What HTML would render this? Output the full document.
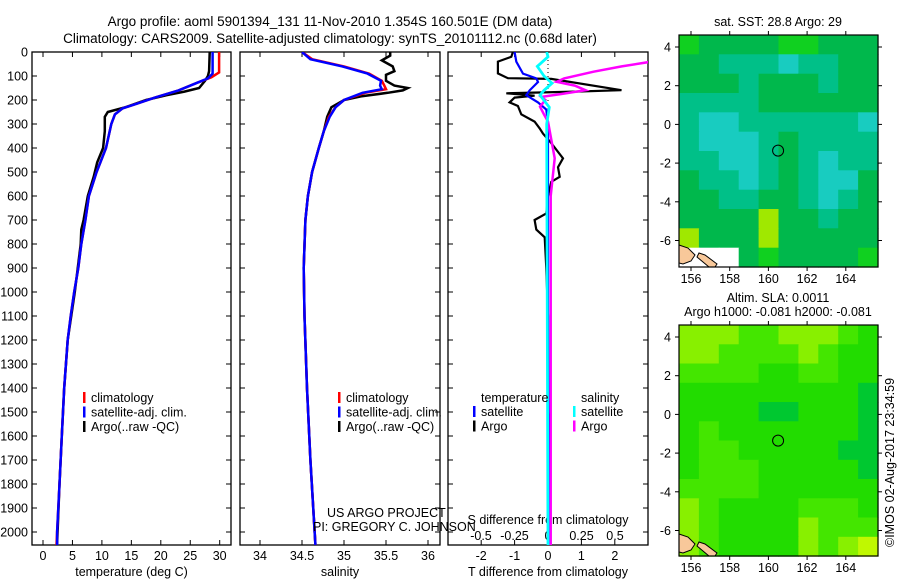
<!DOCTYPE html>
<html><head><meta charset="utf-8"><style>
body{margin:0;background:#fff;}
svg{display:block;font-family:"Liberation Sans",Arial,sans-serif;}
</style></head><body>
<svg id="chart" width="900" height="580" viewBox="0 0 900 580" xmlns="http://www.w3.org/2000/svg">
<rect width="900" height="580" fill="#fff"/>
<text x="330" y="26" font-size="13.5" text-anchor="middle">Argo profile: aoml 5901394_131 11-Nov-2010 1.354S 160.501E (DM data)</text>
<text x="330" y="43" font-size="13.5" text-anchor="middle">Climatology: CARS2009. Satellite-adjusted climatology: synTS_20101112.nc (0.68d later)</text>
<g id="g"></g>
</svg>
<script>
// ---------- data ----------
const depthTicks=[0,100,200,300,400,500,600,700,800,900,1000,1100,1200,1300,1400,1500,1600,1700,1800,1900,2000];
const tempTicks=[0,5,10,15,20,25,30];
const salTicks=[34,34.5,35,35.5,36];
const salTickLabels=['34','34.5','35','35.5','36'];
const tdTicks=[-2,-1,0,1,2];
const sdTicks=[-0.5,-0.25,0,0.25,0.5];
const sdTickLabels=['-0.5','-0.25','0','0.25','0.5'];
const tempClim=[[0,29.9],[85,29.9],[105,28.6],[130,26],[160,23],[190,19],[215,16],[235,13.5],[260,12.2],[300,11.6],[400,10.7],[500,9.1],[600,7.8],[700,7.2],[800,6.5],[900,6],[1000,5.3],[1100,4.7],[1200,4.2],[1400,3.6],[1600,3.2],[1800,2.8],[2000,2.4],[2054,2.3]];
const tempSat=[[0,28.8],[90,28.8],[110,28],[130,26],[160,23],[190,19],[215,16],[235,13.5],[260,12.2],[300,11.6],[400,10.7],[500,9.1],[600,7.8],[700,7.2],[800,6.5],[900,6],[1000,5.3],[1100,4.7],[1200,4.2],[1400,3.6],[1600,3.2],[1800,2.8],[2000,2.4],[2054,2.4]];
const tempArgo=[[0,28.3],[80,28.2],[100,28],[120,27.5],[150,26.5],[165,24],[180,21],[200,17.5],[230,14],[250,11],[270,10.5],[330,10.5],[400,10.2],[460,9.2],[520,8.6],[600,7.6],[700,6.9],[740,6.5],[800,6.4],[1000,5.4],[1200,4.2],[1400,3.6],[1600,3.2],[1800,2.8],[2050,2.4]];
const salClim=[[0,34.5],[30,34.62],[60,35.0],[90,35.3],[120,35.45],[140,35.48],[155,35.5],[170,35.25],[200,35.0],[230,34.9],[270,34.82],[330,34.76],[400,34.7],[500,34.62],[600,34.57],[700,34.54],[900,34.52],[1100,34.53],[1400,34.56],[1700,34.6],[2054,34.66]];
const salSat=[[0,34.5],[30,34.6],[60,34.98],[90,35.28],[120,35.44],[140,35.43],[155,35.45],[170,35.22],[200,35.0],[230,34.9],[270,34.83],[330,34.76],[400,34.7],[500,34.62],[600,34.57],[700,34.54],[900,34.52],[1100,34.53],[1400,34.56],[1700,34.6],[2054,34.66]];
const salArgo=[[0,35.55],[15,35.55],[35,35.45],[60,35.58],[80,35.6],[95,35.5],[120,35.5],[140,35.6],[150,35.76],[160,35.7],[170,35.52],[185,35.2],[200,35.0],[230,34.85],[270,34.8],[330,34.76],[400,34.7],[500,34.62],[600,34.57],[700,34.54],[900,34.52],[1100,34.53],[1400,34.56],[1700,34.6],[2050,34.66]];
const tdArgo=[[0,-1.05],[20,-1.1],[40,-1.5],[89,-1.5],[109,-1.2],[112,0.1],[159,2.2],[165,0.8],[172,-1.25],[182,-0.4],[190,-1.0],[210,-1.15],[225,-0.9],[260,-0.8],[290,-0.4],[318,-0.25],[340,-0.15],[380,0.1],[443,0.45],[480,0.3],[520,0.35],[541,0.1],[600,0],[673,-0.05],[700,-0.4],[740,-0.35],[772,-0.1],[900,-0.05],[1100,0],[1500,0],[1550,0.05],[2050,0.05]];
const tdSat=[[0,-1.0],[40,-0.95],[90,-0.75],[110,-0.35],[125,-0.3],[160,-0.55],[180,-0.65],[210,-0.3],[240,-0.05],[300,0],[1000,0],[2054,0.02]];
const sdSat=[[0,-0.01],[20,0],[45,-0.05],[60,-0.08],[100,-0.03],[130,0.03],[160,-0.03],[180,-0.06],[230,0.01],[300,-0.01],[2054,0]];
const sdArgo=[[0,1.2],[30,0.95],[42,0.75],[60,0.55],[82,0.34],[110,0.12],[124,0.065],[140,0.2],[159,0.28],[175,0.1],[187,-0.05],[200,-0.02],[228,-0.06],[260,-0.03],[290,0],[443,0.05],[600,0.02],[2054,0.02]];
const lonTicks=[156,158,160,162,164];
const latTicks=[4,2,0,-2,-4,-6];
const sstGrid=[
[3,2,2,2,2,3,3,2,2,2],[2,2,1,1,1,0,1,1,2,2],[2,2,2,1,2,2,2,1,2,2],[1,1,1,1,2,2,2,2,2,2],
[1,0,0,1,1,1,1,1,1,0],[1,0,0,0,1,2,1,1,1,1],[1,1,0,0,1,2,1,0,1,1],[2,1,1,0,1,2,1,0,0,2],
[2,2,1,1,2,2,1,0,1,2],[2,2,2,2,4,2,2,1,2,2],[4,2,2,2,4,2,2,2,2,2],[5,5,5,2,3,2,2,2,2,3]];
const slaGrid=[
[3,3,3,2,2,3,3,3,2,1],[3,3,2,2,2,2,3,2,1,1],[2,2,2,2,1,1,2,2,1,1],[1,1,1,1,1,1,1,1,1,0],
[1,1,1,1,0,0,1,1,1,0],[1,2,1,1,1,1,1,1,1,0],[1,2,2,1,1,1,1,1,0,0],[1,2,2,2,1,1,1,1,1,0],
[2,2,2,2,1,1,1,1,1,1],[3,2,1,1,1,1,2,2,2,1],[3,2,1,1,1,1,3,2,2,2],[3,2,1,1,1,1,3,2,3,4]];
const floatLon=160.501, floatLat=-1.354;

// ---------- helpers ----------
const NS='http://www.w3.org/2000/svg';
const G=document.getElementById('g');
function el(tag,attrs,parent){const e=document.createElementNS(NS,tag);for(const k in attrs)e.setAttribute(k,attrs[k]);(parent||G).appendChild(e);return e;}
function txt(x,y,s,anchor,size,parent){const t=el('text',{x:x,y:y,'font-size':size||12.5,'text-anchor':anchor||'start'},parent);t.textContent=s;return t;}
const TOP=52,BOT=545;
const yD=d=>TOP+d*0.24;
function clip(id,x,y,w,h){const c=el('clipPath',{id:id});el('rect',{x:x,y:y,width:w,height:h},c);}

function panel(name,x0,x1,xs,ticks,labels,xlabel,showDepth){
  const g=el('g',{});
  
  
  el('rect',{x:x0,y:TOP,width:x1-x0,height:BOT-TOP,fill:'none',stroke:'#000','stroke-width':1.3},g);
  depthTicks.forEach(d=>{
    el('line',{x1:x0,x2:x0+5,y1:yD(d),y2:yD(d),stroke:'#000'},g);
    el('line',{x1:x1-5,x2:x1,y1:yD(d),y2:yD(d),stroke:'#000'},g);
    if(showDepth){const t=txt(x0-4,yD(d)+4.5,String(d),'end',12.5,g);}
  });
  ticks.forEach((v,i)=>{
    el('line',{x1:xs(v),x2:xs(v),y1:BOT,y2:BOT-5,stroke:'#000'},g);
    el('line',{x1:xs(v),x2:xs(v),y1:TOP,y2:TOP+5,stroke:'#000'},g);
    const t=txt(xs(v),BOT+15,labels[i],'middle',12.5,g);
    
    
  });
  const xl=txt((x0+x1)/2,BOT+31,xlabel,'middle',12.5,g);
  
  
  return g;
}
function line(data,xs,color,w,name,clipId,dash){
  const p=el('polyline',{points:data.map(a=>xs(a[1]).toFixed(1)+','+yD(a[0]).toFixed(1)).join(' '),fill:'none',stroke:color,'stroke-width':w,'stroke-linejoin':'miter'});
  
  
  if(clipId)p.setAttribute('clip-path','url(#'+clipId+')');
  if(dash)p.setAttribute('stroke-dasharray',dash);
  return p;
}
function legend(x,y,items,name){
  const g=el('g',{});
  
  
  items.forEach((it,i)=>{
    el('rect',{x:x,y:y+i*14.5-10,width:2.5,height:11,fill:it[0]},g);
    txt(x+8,y+i*14.5,it[1],'start',12.5,g);
  });
}

// ---------- panel 1: temperature ----------
const xT=v=>43+v*5.89;
panel('temperature-panel',32,231,xT,tempTicks,tempTicks.map(String),'temperature (deg C)',true);
clip('c1',32,TOP,199,BOT-TOP);
line(tempArgo,xT,'#000',2.5,'argo-temperature-line','c1');
line(tempClim,xT,'#f00',2.5,'climatology-temperature-line','c1');
line(tempSat,xT,'#00f',2.5,'satellite-temperature-line','c1');
legend(83,402,[['#f00','climatology'],['#00f','satellite-adj. clim.'],['#000','Argo(..raw -QC)']],'temperature-legend');

// ---------- panel 2: salinity ----------
const xS=v=>260+(v-34)*84;
panel('salinity-panel',240,440,xS,salTicks,salTickLabels,'salinity',false);
clip('c2',240,TOP,200,BOT-TOP);
line(salArgo,xS,'#000',2.5,'argo-salinity-line','c2');
line(salClim,xS,'#f00',2.5,'climatology-salinity-line','c2');
line(salSat,xS,'#00f',2.5,'satellite-salinity-line','c2');
legend(338,402,[['#f00','climatology'],['#00f','satellite-adj. clim.'],['#000','Argo(..raw -QC)']],'salinity-legend');
txt(327,517,'US ARGO PROJECT','start',12.5);
txt(313,531,'PI: GREGORY C. JOHNSON','start',12.5);

// ---------- panel 3: differences ----------
const xTD=v=>548+v*33.4;
const xSD=v=>548+v*134;
panel('difference-panel',448,648,xTD,tdTicks,tdTicks.map(String),'T difference from climatology',false);
sdTicks.forEach((v,i)=>{const t=txt(xSD(v),540,sdTickLabels[i],'middle',12.5);});
txt(548,524,'S difference from climatology','middle',12.5);
el('line',{x1:548,x2:548,y1:TOP,y2:BOT,stroke:'#000','stroke-dasharray':'1,3'});
clip('c3',448,TOP,200,BOT-TOP);
line(tdArgo,xTD,'#000',2.2,'argo-t-diff-line','c3');
line(tdSat,xTD,'#00f',2.2,'satellite-t-diff-line','c3');
line(sdArgo,xSD,'#f0f',2.5,'argo-s-diff-line','c3');
line(sdSat,xSD,'#0ff',2.8,'satellite-s-diff-line','c3');
txt(481,402,'temperature','start',12.5);
txt(581,402,'salinity','start',12.5);
legend(473,416,[['#00f','satellite'],['#000','Argo']],'t-diff-legend');
legend(573,416,[['#0ff','satellite'],['#f0f','Argo']],'s-diff-legend');

// ---------- maps ----------
const MX0=679,MX1=878;
const lonX=l=>691+(l-156)*19.35;
function map(name,y0,y1,lat4y,grid,colors){
  const g=el('g',{});
  
  
  const latY=l=>lat4y+(4-l)*19.35;
  const cw=(MX1-MX0)/10,ch=(y1-y0)/12;
  grid.forEach((row,r)=>row.forEach((v,c)=>{
    const cell=el('rect',{x:(MX0+c*cw).toFixed(1),y:(y0+r*ch).toFixed(1),width:(cw+0.6).toFixed(1),height:(ch+0.6).toFixed(1),fill:colors[v]},g);
    
    
  }));
  // land
  el('path',{d:`M${MX0},${y1-22} L${MX0+9},${y1-19} L${MX0+16},${y1-12} L${MX0+12},${y1-6} L${MX0+4},${y1-3} L${MX0},${y1-4} Z`,fill:'#f8c89a',stroke:'#000','stroke-width':1},g);
  el('path',{d:`M${MX0+20},${y1-14} L${MX0+26},${y1-12} L${MX0+38},${y1-3} L${MX0+36},${y1} L${MX0+30},${y1} L${MX0+18},${y1-10} Z`,fill:'#f8c89a',stroke:'#000','stroke-width':1},g);
  el('rect',{x:MX0,y:y0,width:MX1-MX0,height:y1-y0,fill:'none',stroke:'#000','stroke-width':1.2},g);
  lonTicks.forEach(l=>{
    el('line',{x1:lonX(l),x2:lonX(l),y1:y0,y2:y0-4,stroke:'#000'},g);
    el('line',{x1:lonX(l),x2:lonX(l),y1:y1,y2:y1+4,stroke:'#000'},g);
    txt(lonX(l),y1+16,String(l),'middle',12.5,g);
  });
  latTicks.forEach(l=>{
    el('line',{x1:MX0,x2:MX0-4,y1:latY(l),y2:latY(l),stroke:'#000'},g);
    el('line',{x1:MX1,x2:MX1+4,y1:latY(l),y2:latY(l),stroke:'#000'},g);
    txt(MX0-8,latY(l)+4.5,String(l),'end',12.5,g);
  });
  const m=el('circle',{cx:lonX(floatLon),cy:latY(floatLat),r:5.5,fill:'none',stroke:'#000','stroke-width':1},g);
  
  
}
map('sst-map',35,267,47,sstGrid,['#18ccc0','#00c088','#00b84c','#10d020','#a0e800','#ffffff']);
map('sla-map',325,556,337,slaGrid,['#00c830','#22dc00','#44e600','#88f000','#c0f800']);
txt(778,26,'sat. SST: 28.8 Argo: 29','middle',12.5);
txt(778,302,'Altim. SLA: 0.0011','middle',12.5);
txt(778,316,'Argo h1000: -0.081 h2000: -0.081','middle',12.5);
const cr=txt(0,0,'©IMOS 02-Aug-2017 23:34:59','start',12.5);
cr.setAttribute('transform','translate(894,547) rotate(-90)');

</script>
</body></html>
